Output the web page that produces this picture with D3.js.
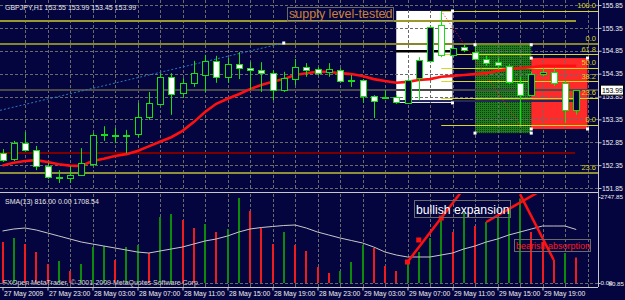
<!DOCTYPE html>
<html>
<head>
<meta charset="utf-8">
<script src="https://cdn.jsdelivr.net/npm/d3@7"></script>
<style>
  html, body { margin: 0; padding: 0; background: #04043f; }
  svg { display: block; }
  text { font-family: "Liberation Sans", Arial, sans-serif; }
</style>
</head>
<body>
<svg id="chart" width="625" height="300"></svg>
<script>
// ---- data (GBPJPY H1, 27 May 19:00 .. 29 May 22:00) ----
var firstBar = new Date(2009, 4, 27, 19);
var barTimes = d3.timeHour.range(firstBar, new Date(2009, 4, 29, 23));

var open  = [152.61,152.48,152.83,152.68,152.33,152.09,152.07,152.13,152.37,153.01,152.99,152.99,153.03,153.40,153.69,154.28,153.93,154.15,154.32,154.63,154.28,154.56,154.47,154.43,154.36,153.99,154.23,154.49,154.45,154.39,154.43,154.21,154.21,153.86,153.82,153.84,153.71,154.25,154.63,155.41,154.76,154.93,154.82,154.67,154.60,154.52,154.15,153.88,154.34,154.39,154.15,153.55];
var high  = [152.70,152.88,153.07,152.77,152.40,152.24,152.33,152.72,153.05,153.20,153.16,153.12,153.71,153.95,154.36,154.36,154.25,154.63,154.76,154.74,154.69,154.82,154.60,154.60,154.43,154.39,154.67,154.58,154.49,154.58,154.47,154.32,154.23,153.88,153.99,153.88,154.25,154.71,155.39,155.72,154.95,154.98,154.98,154.74,154.69,154.56,154.28,154.39,154.47,154.47,154.19,153.99];
var low   = [152.42,152.44,152.66,152.24,152.05,151.96,151.96,152.11,152.33,152.88,152.83,152.61,152.96,153.34,153.66,153.45,153.82,154.06,153.95,154.15,154.15,154.23,153.99,153.95,153.77,153.95,154.10,154.28,154.32,154.28,154.15,154.06,153.71,153.38,153.80,153.69,153.69,153.77,154.58,154.71,154.71,154.82,154.65,154.52,154.43,154.12,153.23,153.86,154.30,154.08,153.27,153.45];
var close = [152.46,152.83,152.68,152.33,152.09,152.08,152.13,152.40,153.01,153.03,153.01,153.00,153.40,153.71,154.28,153.90,154.15,154.36,154.63,154.28,154.56,154.47,154.43,154.36,153.99,154.25,154.49,154.43,154.36,154.45,154.19,154.20,153.86,153.75,153.84,153.73,154.21,154.65,155.37,154.76,154.91,154.87,154.67,154.58,154.54,154.17,153.88,154.34,154.39,154.15,153.55,153.99];
var ma    = [152.34,152.40,152.44,152.46,152.42,152.37,152.34,152.33,152.44,152.49,152.55,152.59,152.66,152.76,152.86,152.96,153.10,153.29,153.51,153.69,153.80,153.90,154.01,154.10,154.17,154.23,154.32,154.36,154.39,154.39,154.36,154.34,154.30,154.23,154.19,154.15,154.17,154.21,154.23,154.28,154.30,154.32,154.34,154.36,154.41,154.45,154.47,154.49,154.52,154.52,154.52,154.52];
var volume = [1310,1438,1246,990,607,703,383,607,1150,1182,735,1150,1214,958,2109,2205,2013,1757,1885,1630,1725,2716,2300,1757,1246,1630,1214,1022,511,320,383,671,1214,1118,543,383,671,990,1438,2077,1630,2237,1821,1949,2077,2332,2700,1630,1310,735,958,816];
var volSma = [1661,1725,1757,1693,1598,1502,1406,1310,1246,1182,1118,1054,990,958,1022,1086,1150,1246,1342,1406,1502,1629,1725,1773,1805,1837,1853,1757,1629,1534,1438,1358,1278,1150,990,895,831,831,831,895,958,1086,1182,1310,1406,1534,1629,1725,1821,1821,1821,1709];

var tickLabels = ["27 May 2009","27 May 23:00","28 May 03:00","28 May 07:00","28 May 11:00","28 May 15:00","28 May 19:00","28 May 23:00","29 May 03:00","29 May 07:00","29 May 11:00","29 May 15:00","29 May 19:00"];
var priceTicks = [155.85,155.35,154.85,154.35,153.85,153.35,152.85,152.35,151.85];
var volTicks = [2747.85, 0];

// chart objects (bar index / price)
var zoneFrom = [35, 42, 47], zoneTo = [40, 47, 52];
var zoneHigh = [155.72, 154.98, 154.69], zoneLow = [153.71, 153.05, 153.14];
var levelPrice = [155.50, 155.00, 152.61, 152.18];
var fibLevels = [0, 23.6, 38.2, 50.0, 61.8, 100.0];
var fibFrom = 39, fibTo = 46, fibHigh = 155.72, fibLow = 153.23;
var trendBars = [0, 25], trendPrices = [153.56, 155.02];

// ---- layout ----
var bg = "#04043f";
var plotRight = 598, mainBottom = 190, volTop = 194, volBottom = 287;

var svg = d3.select("#chart");
svg.append("rect").attr("width", 625).attr("height", 300).attr("fill", bg);

var x = d3.scaleTime().domain([barTimes[0], barTimes[51]]).range([2.5, 576.25]);
var y = d3.scaleLinear().domain([151.85, 155.85]).range([188, 5]);
var yv = d3.scaleLinear().domain([0, 2747.85]).range([283, 197]);
function bx(i) { return x(d3.timeHour.offset(firstBar, i)); }
function px(v) { return Math.round(v) + 0.5; }

var defs = svg.append("defs");
defs.append("clipPath").attr("id", "clipMain").append("rect")
  .attr("x", 0).attr("y", 0).attr("width", plotRight).attr("height", mainBottom);
defs.append("clipPath").attr("id", "clipVol").append("rect")
  .attr("x", 0).attr("y", volTop).attr("width", plotRight).attr("height", volBottom - volTop);
var pat = defs.append("pattern").attr("id", "dots").attr("width", 2).attr("height", 2)
  .attr("patternUnits", "userSpaceOnUse");
pat.append("rect").attr("width", 2).attr("height", 2).attr("fill", "#1e7e1e");
pat.append("rect").attr("width", 1).attr("height", 1).attr("fill", "#0a3c0a");

var main = svg.append("g").attr("clip-path", "url(#clipMain)");

// zones
var zoneFill = ["#ffffff", "url(#dots)", "#ff2a2a"];
main.selectAll("rect.zone").data(zoneFrom).enter().append("rect")
  .attr("class", "zone")
  .attr("x", (d) => bx(d))
  .attr("width", (d, i) => bx(zoneTo[i]) - bx(d))
  .attr("y", (d, i) => y(zoneHigh[i]))
  .attr("height", (d, i) => y(zoneLow[i]) - y(zoneHigh[i]))
  .attr("fill", (d, i) => zoneFill[i]);

// grid
var gridX = d3.range(2, 53, 2).map((i) => d3.timeHour.offset(firstBar, i));
function drawGrid(g, y0, y1, ys) {
  g.selectAll(null).data(gridX).enter().append("line")
    .attr("x1", (d) => px(x(d))).attr("x2", (d) => px(x(d)))
    .attr("y1", y0).attr("y2", y1)
    .attr("stroke", "#6a6a6a").attr("stroke-dasharray", "3,2");
  g.selectAll(null).data(ys).enter().append("line")
    .attr("x1", 0).attr("x2", plotRight)
    .attr("y1", (d) => px(d)).attr("y2", (d) => px(d))
    .attr("stroke", "#6a6a6a").attr("stroke-dasharray", "3,2");
}
drawGrid(main, 0, mainBottom, priceTicks.map(y));

// horizontal levels
var levelColor = ["#9a9a2c", "#85852a", "#7a0000", "#8f8f3a"];
var levelEnd = [576, plotRight, 575, plotRight];
main.selectAll("line.level").data(levelPrice).enter().append("line")
  .attr("x1", 0).attr("x2", (d, i) => levelEnd[i])
  .attr("y1", (d) => Math.round(y(d))).attr("y2", (d) => Math.round(y(d)))
  .attr("stroke", (d, i) => levelColor[i]).attr("stroke-width", 2);
// bid line and two short lines inside the zones
main.append("line").attr("x1", 0).attr("x2", plotRight)
  .attr("y1", Math.round(y(close[51]))).attr("y2", Math.round(y(close[51])))
  .attr("stroke", "#4a4a4a").attr("stroke-width", 2);
main.append("line").attr("x1", bx(35) - 1).attr("x2", bx(42))
  .attr("y1", y(154.84)).attr("y2", y(154.84)).attr("stroke", "#000").attr("stroke-width", 2.5);
main.append("line").attr("x1", bx(35) - 1).attr("x2", bx(51))
  .attr("y1", y(153.75)).attr("y2", y(153.75)).attr("stroke", "#26265e").attr("stroke-width", 2);

// fibonacci
var fibY = (l) => y(fibLow + (fibHigh - fibLow) * l / 100);
main.selectAll("line.fib").data(fibLevels).enter().append("line")
  .attr("x1", bx(fibFrom)).attr("x2", plotRight)
  .attr("y1", (d) => px(fibY(d))).attr("y2", (d) => px(fibY(d)))
  .attr("stroke", "#d8d820");
main.append("line")
  .attr("x1", bx(fibFrom)).attr("y1", y(fibHigh)).attr("x2", bx(fibTo)).attr("y2", y(fibLow))
  .attr("stroke", "#ff2020").attr("stroke-dasharray", "1,2");
var fibText = fibLevels.map((d) => ({ t: d.toFixed(1), y: fibY(d) }))
  .concat([{ t: "0.0", y: y(levelPrice[1]) }, { t: "23.6", y: y(levelPrice[3]) }]);
main.selectAll("text.fib").data(fibText).enter().append("text")
  .attr("x", 596).attr("y", (d) => d.y - 2.5)
  .attr("text-anchor", "end").attr("font-size", 7.5).attr("fill", "#d8d820")
  .text((d) => d.t);

// blue dashed trend line
var tSlope = (y(trendPrices[1]) - y(trendPrices[0])) / (bx(trendBars[1]) - bx(trendBars[0]));
main.append("line")
  .attr("x1", 0).attr("y1", y(trendPrices[0]) - tSlope * bx(trendBars[0]))
  .attr("x2", bx(trendBars[1])).attr("y2", y(trendPrices[1]))
  .attr("stroke", "#2a78c0").attr("stroke-dasharray", "2,2");

// moving average
main.append("path")
  .datum(ma)
  .attr("d", d3.line().x((d, i) => bx(i)).y((d) => y(d)))
  .attr("fill", "none").attr("stroke", "#ff1010").attr("stroke-width", 2.6);

// candles
var candleGreen = "#14e014";
main.selectAll("line.wick").data(barTimes).enter().append("line")
  .attr("x1", (d) => px(x(d))).attr("x2", (d) => px(x(d)))
  .attr("y1", (d, i) => y(high[i])).attr("y2", (d, i) => y(low[i]))
  .attr("stroke", candleGreen);
main.selectAll("rect.body").data(barTimes).enter().append("rect")
  .attr("x", (d) => Math.round(x(d)) - 3 + 0.5)
  .attr("y", (d, i) => Math.round(y(Math.max(open[i], close[i]))) + 0.5)
  .attr("width", 6)
  .attr("height", (d, i) => Math.max(1, Math.round(Math.abs(y(open[i]) - y(close[i])))))
  .attr("fill", (d, i) => close[i] < open[i] ? "#ffffff" : (Math.abs(y(open[i]) - y(close[i])) < 2 ? candleGreen : bg))
  .attr("stroke", candleGreen);

// anchor markers
var markers = [[40, 155.72], [40, 153.71], [42, 154.98], [47, 154.98], [42, 153.05], [47, 153.05],
  [47, 154.69], [52, 154.69], [47, 153.14], [52, 153.14], [25, 155.02]];
main.selectAll("rect.mk").data(markers).enter().append("rect")
  .attr("x", (d) => bx(d[0]) - 1.5).attr("y", (d) => y(d[1]) - 1.5)
  .attr("width", 3).attr("height", 3).attr("fill", "#fff");

// label
main.append("rect").attr("x", 287.5).attr("y", 7.5).attr("width", 106).attr("height", 14)
  .attr("fill", "none").attr("stroke", "#6a6a6a");
main.append("text").attr("x", 289).attr("y", 18).attr("font-size", 12.5)
  .attr("fill", "#c98238").text("supply level-tested");

svg.append("text").attr("x", 5).attr("y", 9.5).attr("font-size", 7).attr("fill", "#e8e8e8")
  .text("GBPJPY,H1  153.55 153.99 153.45 153.99");

// separator
svg.append("line").attr("x1", 0).attr("x2", plotRight).attr("y1", 192.5).attr("y2", 192.5)
  .attr("stroke", "#c8c8c8");

// ---- volume panel ----
var vol = svg.append("g").attr("clip-path", "url(#clipVol)");
drawGrid(vol, volTop, volBottom, [yv(0)]);

vol.selectAll("line.vbar").data(volume).enter().append("line")
  .attr("x1", (d, i) => Math.round(bx(i))).attr("x2", (d, i) => Math.round(bx(i)))
  .attr("y1", yv(0)).attr("y2", (d) => yv(d))
  .attr("stroke", (d, i) => i > 0 && d > volume[i - 1] ? "#0c8a0c" : "#ee1c1c")
  .attr("stroke-width", 2);

vol.append("path").datum(volSma)
  .attr("d", d3.line().x((d, i) => bx(i)).y((d) => yv(d)))
  .attr("fill", "none").attr("stroke", "#c8c8c8").attr("stroke-width", 1);

// hand drawn trend lines
function ray(i0, v0, i1, v1, extend) {
  var x0 = bx(i0), y0 = yv(v0), x1 = bx(i1), y1 = yv(v1);
  vol.append("line").attr("x1", x0).attr("y1", y0)
    .attr("x2", x0 + (x1 - x0) * extend).attr("y2", y0 + (y1 - y0) * extend)
    .attr("stroke", "#ff1010").attr("stroke-width", 2.5);
}
ray(36, volume[36], 39, volume[39], 2);
ray(43, volume[43], 48, 2980, 1);
ray(49, volume[49], 46, 2840, 1);
vol.selectAll("rect.rmk").data([36, 37.5, 39]).enter().append("rect")
  .attr("x", (d) => bx(d) - 2.5)
  .attr("y", (d) => yv(volume[36] + (volume[39] - volume[36]) * (d - 36) / 3) - 2.5)
  .attr("width", 5).attr("height", 5).attr("fill", "#ff1010");

vol.append("rect").attr("x", 414.5).attr("y", 200.5).attr("width", 96).attr("height", 17)
  .attr("fill", "none").attr("stroke", "#6a6a6a");
vol.append("text").attr("x", 416).attr("y", 213.5).attr("font-size", 12.2)
  .attr("fill", "#ffffff").text("bullish expansion");
vol.append("rect").attr("x", 514.5).attr("y", 239.5).attr("width", 76).attr("height", 12)
  .attr("fill", "none").attr("stroke", "#6a6a6a");
vol.append("text").attr("x", 516).attr("y", 248.5).attr("font-size", 9)
  .attr("fill", "#ff1a1a").text("bearish absorption");

svg.append("text").attr("x", 5).attr("y", 203.5).attr("font-size", 7).attr("fill", "#e8e8e8")
  .text("SMA(13) 816.00 0.00 1708.54");
svg.append("text").attr("x", 3).attr("y", 284.5).attr("font-size", 7).attr("fill", "#d0d0d0")
  .text("FXOpen MetaTrader, \u00a9 2001-2009 MetaQuotes Software Corp.");

// ---- axes ----
svg.append("line").attr("x1", plotRight + 0.5).attr("x2", plotRight + 0.5).attr("y1", 0).attr("y2", volBottom)
  .attr("stroke", "#c8c8c8");
svg.append("line").attr("x1", 0).attr("x2", plotRight).attr("y1", volBottom + 0.5).attr("y2", volBottom + 0.5)
  .attr("stroke", "#c8c8c8");

function styleAxis(g) {
  g.select(".domain").remove();
  g.selectAll("line").attr("stroke", "#c8c8c8");
  g.selectAll("text").attr("fill", "#f0f0f0").attr("font-size", 6.8)
    .attr("font-family", "Liberation Sans, Arial, sans-serif");
}
svg.append("g").attr("transform", "translate(" + (plotRight + 0.5) + ",0)")
  .call(d3.axisRight(y).tickValues(priceTicks).tickFormat(d3.format(".2f")).tickSize(3).tickPadding(0.5))
  .call(styleAxis);
svg.append("g").attr("transform", "translate(" + (plotRight + 0.5) + ",0)")
  .call(d3.axisRight(yv).tickValues(volTicks).tickFormat(d3.format(".2f")).tickSize(2).tickPadding(0))
  .call(styleAxis)
  .selectAll("text").attr("font-size", 6.2);
svg.append("text").attr("x", 624).attr("y", yv(0) + 2.5).attr("text-anchor", "end")
  .attr("font-size", 6.2).attr("fill", "#f0f0f0").text("80.85");

// current price box
svg.append("rect").attr("x", 600.5).attr("y", y(close[51]) - 5).attr("width", 23).attr("height", 10)
  .attr("fill", "#ffffff").attr("stroke", "#000");
svg.append("text").attr("x", 602).attr("y", y(close[51]) + 2.5).attr("font-size", 6.8)
  .attr("fill", "#000").text(close[51].toFixed(2));

var tickTimes = barTimes.filter((d, i) => i % 4 === 0);
svg.append("g").attr("transform", "translate(0," + (volBottom + 0.5) + ")")
  .call(d3.axisBottom(x).tickValues(tickTimes).tickFormat((d, i) => tickLabels[i]).tickSize(3).tickPadding(1))
  .call(styleAxis)
  .selectAll("text").attr("text-anchor", "start").attr("dx", 1);
</script>
</body>
</html>
